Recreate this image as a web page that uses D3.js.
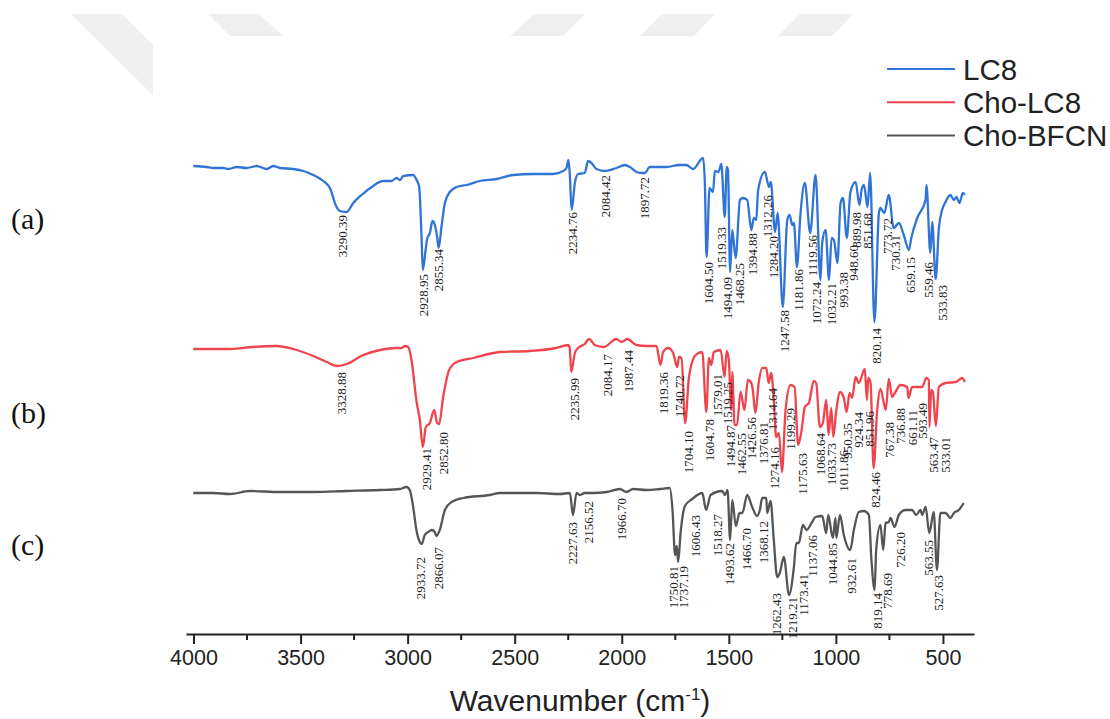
<!DOCTYPE html>
<html>
<head>
<meta charset="utf-8">
<style>
  html, body { margin: 0; background: #fff; }
  svg { display: block; }
</style>
<script src="https://cdn.jsdelivr.net/npm/d3@7"></script>
</head>
<body>
<div id="chart"></div>
<script>
// Spectra: wavenumber (cm-1) and relative transmittance (a.u.)
const wnLC8 = [4001,3939,3907,3861,3837,3798,3752,3705,3658,3627,3596,3534,3487,3441,3394,3363,3332,3316,3285,3254,3215,3168,3114,3075,3052,3036,3020,2974,2958,2946,2935,2929,2916,2908,2896,2884,2873,2862,2855,2842,2826,2803,2772,2725,2663,2585,2507,2414,2320,2274,2258,2249,2243,2234,2219,2204,2173,2157,2141,2118,2079,2025,1986,1962,1931,1908,1892,1869,1791,1733,1698,1667,1620,1612,1604,1590,1574,1565,1549,1535,1519,1510,1504,1494,1484,1468,1448,1434,1414,1395,1383,1372,1363,1332,1312,1304,1284,1272,1248,1227,1216,1204,1196,1182,1165,1145,1120,1095,1072,1064,1048,1032,1020,1009,993,978,967,949,932,908,890,880,869,852,840,820,799,792,774,753,730,706,683,659,648,620,581,577,559,550,534,519,504,488,465,449,437,423,407,398];
const tLC8 = [468,467,466,466,465,467,466,468,465,468,466,465,463,459,453,446,427,423,422,431,439,447,453,453,456,454,458,459,454,447,397,364,384,396,401,413,409,397,386,407,431,442,447,449,453,455,459,460,460,463,466,474,461,424,451,460,461,473,471,465,463,466,469,467,462,461,461,467,467,469,469,465,476,451,377,446,442,463,462,470,417,467,464,362,404,376,434,436,434,404,416,414,444,462,447,452,402,421,327,414,419,409,411,367,421,451,401,459,354,391,404,354,396,394,371,431,436,396,442,452,429,444,449,427,461,312,421,426,421,439,406,411,399,384,396,416,434,449,381,412,355,406,424,432,439,434,437,431,441,439];

const wnChoLC8 = [4001,3830,3721,3612,3534,3441,3378,3329,3285,3207,3129,3052,3028,3013,2997,2982,2958,2943,2929,2915,2896,2876,2862,2853,2834,2806,2771,2694,2569,2429,2305,2250,2243,2236,2219,2204,2173,2152,2126,2084,2025,2001,1975,1931,1885,1838,1819,1807,1783,1760,1741,1733,1721,1704,1686,1655,1624,1605,1593,1582,1570,1538,1520,1510,1500,1489,1484,1473,1462,1445,1427,1411,1395,1388,1376,1360,1344,1325,1314,1302,1290,1279,1266,1252,1235,1212,1193,1176,1160,1145,1126,1103,1092,1075,1061,1045,1034,1022,1012,999,980,963,950,936,924,908,893,865,855,849,838,824,807,792,767,753,737,722,698,667,661,644,597,578,566,563,555,547,533,519,488,441,410,398];
const tChoLC8 = [285,285,287,288,285,278,272,268,270,279,284,286,286,288,287,274,232,214,187,207,211,224,211,210,237,264,272,276,282,283,286,289,286,262,281,286,290,295,289,287,295,292,295,289,288,288,269,282,286,281,267,277,276,211,257,279,282,222,276,269,282,284,257,283,274,224,262,209,209,242,224,254,251,244,221,252,266,266,251,261,234,197,201,162,224,249,247,189,204,227,231,253,251,207,211,234,199,226,197,222,242,236,222,241,236,257,251,265,234,256,251,166,224,245,224,255,237,242,249,247,236,247,247,256,254,207,244,242,208,247,251,252,256,252];

const wnChoBFCN = [4001,3907,3830,3736,3596,3441,3285,3129,3036,3005,2990,2974,2959,2943,2934,2920,2904,2888,2873,2866,2850,2826,2795,2741,2616,2569,2400,2289,2242,2228,2211,2196,2172,2133,2071,2009,1978,1947,1884,1822,1776,1763,1751,1743,1737,1724,1705,1671,1624,1606,1585,1531,1518,1506,1494,1484,1467,1450,1437,1414,1391,1368,1355,1344,1325,1321,1305,1290,1274,1262,1243,1219,1196,1185,1173,1154,1137,1111,1095,1064,1045,1036,1014,1002,998,981,963,933,916,893,869,846,834,819,812,792,779,768,753,745,726,706,675,644,625,605,597,581,564,543,528,512,488,465,449,426,403];
const tChoBFCN = [141,141,140,143,142,142,143,144,145,147,144,127,104,92,90,99,102,104,102,98,104,124,132,136,139,141,141,140,141,119,141,139,141,141,142,145,142,145,144,145,146,124,79,88,72,104,128,135,141,124,139,143,139,144,94,134,108,121,121,139,127,118,124,136,136,121,133,94,57,61,77,39,67,91,91,109,104,112,117,118,101,119,96,116,96,119,99,84,104,122,123,119,74,44,84,109,84,111,112,116,107,119,124,124,119,124,119,127,101,122,64,121,121,116,121,124,131];

// Peak labels and where they sit on the page (centre x, top of text)
const peaksLC8 = ["3290.39","2928.95","2855.34","2234.76","2084.42","1897.72","1604.50","1519.33","1494.09","1468.25","1394.88","1312.26","1284.20","1247.58","1181.86","1119.56","1072.24","1032.21","993.38","948.60","889.98","851.68","820.14","773.72","730.31","659.15","559.46","533.83"];
const peaksLC8X = [342,423,438,572,605,644,708,721,727,739,752,767,773,784,798,812,816,831,843,853,856,867,876,887,895,910,928,942];
const peaksLC8Top = [215,274,249,212,175,177,262,227,277,263,233,195,236,310,269,235,282,283,272,245,212,213,328,218,235,257,262,285];

const peaksChoLC8 = ["3328.88","2929.41","2852.80","2235.99","2084.17","1987.44","1819.36","1740.72","1704.10","1604.78","1579.01","1519.25","1494.87","1462.55","1426.56","1376.81","1314.64","1274.16","1199.29","1175.63","1068.64","1033.73","1011.86","950.35","924.34","851.96","824.46","767.38","736.88","661.11","593.49","563.47","533.01"];
const peaksChoLC8X = [341,426,443,574,607,628,663,679,688,709,717,727,730,741,751,763,772,774,790,802,820,831,843,847,858,869,875,889,900,912,922,933,945];
const peaksChoLC8Top = [372,448,432,378,354,350,372,375,431,419,374,382,425,433,417,422,388,447,408,453,433,443,450,423,412,411,472,422,408,410,403,437,437];

const peaksChoBFCN = ["2933.72","2866.07","2227.63","2156.52","1966.70","1750.81","1737.19","1606.43","1518.27","1493.62","1466.70","1368.12","1262.43","1219.21","1173.41","1137.06","1044.85","932.61","819.14","778.69","726.20","563.55","527.63"];
const peaksChoBFCNX = [420,438,572,588,621,673,683,695,717,729,746,763,776,792,803,812,832,851,877,887,900,928,938];
const peaksChoBFCNTop = [557,547,522,501,498,566,566,515,514,543,528,521,593,597,574,535,543,558,593,573,532,540,575];

const seriesNames = ["LC8", "Cho-LC8", "Cho-BFCN"];
const seriesColors = ["#2f74d6", "#f0444c", "#555555"];
const panelNames = ["(a)", "(b)", "(c)"];
const panelBaselines = [229, 423, 555];
const xTicks = [4000, 3500, 3000, 2500, 2000, 1500, 1000, 500];
const xMinorTicks = [3750, 3250, 2750, 2250, 1750, 1250, 750];

const width = 1110;
const height = 719;

const svg = d3.select("#chart").append("svg")
    .attr("width", width)
    .attr("height", height);

// Grey watermark shapes behind the plot
const watermark = [
    [[71,14],[122,14],[153,45],[153,95]],
    [[208,14],[259,14],[283,36],[230,36]],
    [[534,14],[585,14],[563,36],[510,36]],
    [[662,14],[715,14],[694,36],[640,36]],
    [[800,14],[853,14],[832,36],[778,36]]
];
svg.selectAll("polygon")
    .data(watermark)
    .enter()
    .append("polygon")
    .attr("points", d => d.join(" "))
    .attr("fill", "#efefef");

const x = d3.scaleLinear().domain([4035, 355]).range([186, 974]);
const y = d3.scaleLinear().domain([0, 500]).range([634, 134]);

const line = d3.line()
    .x(d => x(d[0]))
    .y(d => y(d[1]))
    .curve(d3.curveMonotoneX);

const spectra = [
    d3.zip(wnLC8, tLC8),
    d3.zip(wnChoLC8, tChoLC8),
    d3.zip(wnChoBFCN, tChoBFCN)
];

svg.selectAll("path.spectrum")
    .data(spectra)
    .enter()
    .append("path")
    .attr("class", "spectrum")
    .attr("d", line)
    .attr("fill", "none")
    .attr("stroke", (d, i) => seriesColors[i])
    .attr("stroke-width", 2.3)
    .attr("stroke-linejoin", "round");

// Rotated peak labels
const peakGroups = [
    [peaksLC8, peaksLC8X, peaksLC8Top],
    [peaksChoLC8, peaksChoLC8X, peaksChoLC8Top],
    [peaksChoBFCN, peaksChoBFCNX, peaksChoBFCNTop]
];
peakGroups.forEach(([labels, xs, tops]) => {
    svg.append("g").selectAll("text")
        .data(labels)
        .enter()
        .append("text")
        .text(d => d)
        .attr("transform", (d, i) => `translate(${xs[i]},${tops[i]}) rotate(-90)`)
        .attr("text-anchor", "end")
        .attr("dominant-baseline", "central")
        .attr("font-family", "'Liberation Serif', serif")
        .attr("font-size", 13)
        .attr("fill", "#222");
});

// X axis with minor ticks
const axis = svg.append("g")
    .attr("transform", "translate(0,634)")
    .call(d3.axisBottom(x).tickValues(xTicks).tickFormat(d3.format("d")).tickSize(10).tickSizeOuter(0).tickPadding(6));
axis.select(".domain").attr("stroke", "#222").attr("stroke-width", 2);
axis.selectAll(".tick line").attr("stroke", "#222").attr("stroke-width", 2);
axis.selectAll(".tick text")
    .attr("font-family", "'Liberation Sans', sans-serif")
    .attr("font-size", 21.5)
    .attr("fill", "#222");

svg.append("g").selectAll("line")
    .data(xMinorTicks)
    .enter()
    .append("line")
    .attr("x1", d => x(d))
    .attr("x2", d => x(d))
    .attr("y1", 634)
    .attr("y2", 640)
    .attr("stroke", "#222")
    .attr("stroke-width", 2);

// Axis title
const title = svg.append("text")
    .attr("x", 580)
    .attr("y", 711)
    .attr("text-anchor", "middle")
    .attr("font-family", "'Liberation Sans', sans-serif")
    .attr("font-size", 30)
    .attr("fill", "#222")
    .text("Wavenumber (cm");
title.append("tspan").attr("dy", -11).attr("font-size", 17).text("-1");
title.append("tspan").attr("dy", 11).text(")");

// Legend
const legend = svg.append("g").selectAll("g")
    .data(seriesNames)
    .enter()
    .append("g")
    .attr("transform", (d, i) => `translate(887,${69 + i * 33.3})`);
legend.append("line")
    .attr("x2", 68)
    .attr("stroke", (d, i) => seriesColors[i])
    .attr("stroke-width", 2);
legend.append("text")
    .text(d => d)
    .attr("x", 76)
    .attr("dominant-baseline", "central")
    .attr("font-family", "'Liberation Sans', sans-serif")
    .attr("font-size", 29.5)
    .attr("fill", "#222");

// Panel letters
svg.append("g").selectAll("text")
    .data(panelNames)
    .enter()
    .append("text")
    .text(d => d)
    .attr("x", 11)
    .attr("y", (d, i) => panelBaselines[i])
    .attr("font-family", "'Liberation Serif', serif")
    .attr("font-size", 30)
    .attr("fill", "#111");
</script>
</body>
</html>
